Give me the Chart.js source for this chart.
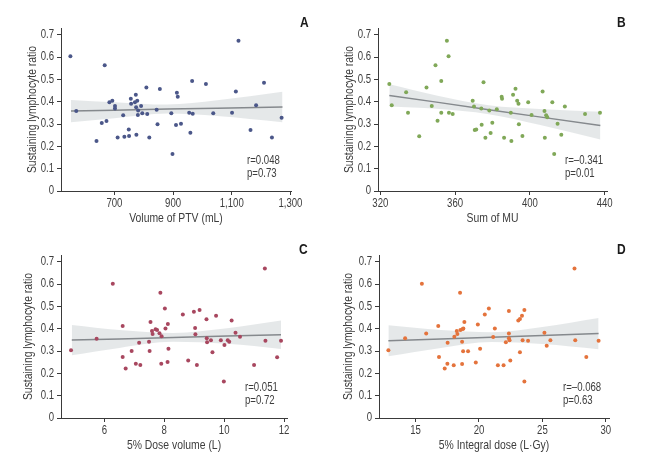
<!DOCTYPE html>
<html>
<head>
<meta charset="utf-8">
<script src="https://cdn.jsdelivr.net/npm/chart.js@4.4.1/dist/chart.umd.min.js"></script>
<style>
  html, body { margin: 0; padding: 0; background: #fff; }
  #wrap { position: relative; width: 656px; height: 466px; }
  .panel { position: absolute; width: 328px; height: 233px; }
</style>
</head>
<body>
<div id="wrap">
  <div class="panel" style="left:0;top:0"><canvas id="chartA" width="328" height="233"></canvas></div>
  <div class="panel" style="left:328px;top:0"><canvas id="chartB" width="328" height="233"></canvas></div>
  <div class="panel" style="left:0;top:233px"><canvas id="chartC" width="328" height="233"></canvas></div>
  <div class="panel" style="left:328px;top:233px"><canvas id="chartD" width="328" height="233"></canvas></div>
</div>
<script>
// values
const ratioA = [0.603, 0.358, 0.224, 0.304, 0.563, 0.313, 0.397, 0.404, 0.381, 0.370, 0.240, 0.339, 0.243, 0.275, 0.246, 0.413, 0.391, 0.398, 0.431, 0.375, 0.252, 0.404, 0.360, 0.340, 0.381, 0.348, 0.464, 0.345, 0.240, 0.364, 0.299, 0.457, 0.348, 0.166, 0.296, 0.440, 0.422, 0.301, 0.351, 0.261, 0.493, 0.346, 0.479, 0.348, 0.351, 0.446, 0.673, 0.273, 0.384, 0.485, 0.240, 0.328];
const ptvVolume = [550, 570, 639, 657, 667, 673, 683, 693, 702, 702, 711, 730, 734, 749, 750, 756, 757, 770, 773, 774, 775, 778, 781, 780, 791, 795, 809, 812, 819, 844, 847, 855, 894, 898, 910, 913, 916, 927, 955, 959, 965, 967, 1012, 1037, 1101, 1114, 1123, 1164, 1183, 1210, 1237, 1270];

const ratioB = [0.479, 0.384, 0.442, 0.351, 0.245, 0.464, 0.381, 0.563, 0.315, 0.493, 0.351, 0.673, 0.603, 0.351, 0.345, 0.404, 0.378, 0.273, 0.275, 0.369, 0.297, 0.487, 0.239, 0.360, 0.260, 0.306, 0.366, 0.422, 0.413, 0.239, 0.351, 0.224, 0.431, 0.458, 0.404, 0.391, 0.299, 0.246, 0.397, 0.340, 0.446, 0.358, 0.239, 0.339, 0.330, 0.397, 0.166, 0.301, 0.252, 0.378, 0.345, 0.351];
const sumMU = [324.8, 326.1, 333.8, 334.8, 340.8, 344.7, 347.5, 349.5, 350.6, 352.6, 352.6, 355.6, 356.5, 356.7, 358.7, 369.4, 370.1, 370.5, 371.3, 374.0, 374.2, 375.2, 376.2, 378.3, 379.0, 379.9, 382.3, 384.9, 385.1, 386.2, 389.8, 390.1, 391.0, 392.3, 393.2, 393.9, 394.1, 396.0, 399.1, 400.9, 406.8, 407.8, 408.0, 408.7, 409.3, 412.0, 413.0, 414.8, 416.8, 418.7, 429.5, 437.5];

const ratioC = [0.303, 0.355, 0.601, 0.412, 0.273, 0.222, 0.300, 0.243, 0.337, 0.237, 0.342, 0.300, 0.430, 0.390, 0.376, 0.397, 0.394, 0.379, 0.561, 0.243, 0.366, 0.490, 0.401, 0.251, 0.421, 0.310, 0.463, 0.257, 0.476, 0.403, 0.375, 0.237, 0.484, 0.442, 0.357, 0.339, 0.348, 0.294, 0.458, 0.348, 0.327, 0.164, 0.348, 0.342, 0.437, 0.382, 0.364, 0.237, 0.670, 0.346, 0.272, 0.346];
const doseVolume = [4.885, 5.74, 6.28, 6.61, 6.61, 6.71, 6.91, 7.05, 7.16, 7.20, 7.49, 7.51, 7.54, 7.59, 7.61, 7.71, 7.76, 7.84, 7.87, 7.90, 7.91, 8.02, 8.04, 8.11, 8.12, 8.14, 8.62, 8.80, 8.99, 9.03, 9.04, 9.09, 9.18, 9.41, 9.42, 9.43, 9.56, 9.61, 9.73, 9.89, 10.01, 9.99, 10.12, 10.17, 10.25, 10.38, 10.53, 11.0, 11.36, 11.38, 11.77, 11.90];

const ratioD = [0.303, 0.357, 0.601, 0.378, 0.412, 0.273, 0.222, 0.337, 0.243, 0.236, 0.364, 0.390, 0.376, 0.561, 0.394, 0.242, 0.342, 0.399, 0.401, 0.299, 0.430, 0.299, 0.249, 0.419, 0.310, 0.463, 0.490, 0.363, 0.401, 0.236, 0.236, 0.339, 0.479, 0.378, 0.357, 0.348, 0.258, 0.437, 0.443, 0.294, 0.458, 0.348, 0.484, 0.163, 0.346, 0.382, 0.324, 0.348, 0.670, 0.348, 0.273, 0.346];
const integralDose = [12.86, 14.18, 15.50, 15.84, 16.79, 16.85, 17.30, 17.53, 17.51, 18.01, 18.06, 18.25, 18.30, 18.51, 18.54, 18.67, 18.67, 18.72, 18.77, 18.75, 18.85, 19.14, 19.75, 19.91, 20.09, 20.46, 20.78, 21.12, 21.25, 21.49, 21.94, 22.12, 22.36, 22.36, 22.36, 22.41, 22.47, 23.10, 23.23, 23.23, 23.39, 23.44, 23.58, 23.58, 23.87, 25.16, 25.34, 25.63, 27.53, 27.59, 28.46, 29.43];

// fitted line and 95% band, read at a few x positions
const fitXA = [552, 700, 880, 1050, 1273];
const fitA = [0.358, 0.362, 0.367, 0.371, 0.376];
const hiA = [0.408, 0.398, 0.387, 0.406, 0.444];
const loA = [0.308, 0.326, 0.347, 0.336, 0.308];

const fitXB = [324.8, 350, 378, 405, 437.7];
const fitB = [0.428, 0.398, 0.364, 0.332, 0.293];
const hiB = [0.478, 0.428, 0.384, 0.367, 0.355];
const loB = [0.378, 0.368, 0.344, 0.297, 0.231];

const fitXC = [4.91, 6.5, 8.3, 10.1, 11.9];
const fitC = [0.349, 0.354, 0.361, 0.367, 0.373];
const hiC = [0.417, 0.394, 0.381, 0.402, 0.437];
const loC = [0.281, 0.314, 0.341, 0.332, 0.309];

const fitXD = [12.86, 17, 21, 25, 29.43];
const fitD = [0.346, 0.354, 0.362, 0.369, 0.378];
const hiD = [0.415, 0.394, 0.384, 0.407, 0.448];
const loD = [0.277, 0.314, 0.340, 0.331, 0.308];

// tick labels
const yTicks = [0, 0.1, 0.2, 0.3, 0.4, 0.5, 0.6, 0.7];
const xTicksA = [700, 900, 1100, 1300];
const xTicksB = [320, 360, 400, 440];
const xTicksC = [6, 8, 10, 12];
const xTicksD = [15, 20, 25, 30];

const FONT = "'Liberation Sans', Arial, sans-serif";
const AXIS = '#3a3a3a';
const TEXT = '#3d3d3d';

// no condensed face installed: squeeze canvas text sideways so it reads like the narrow font
const SQUEEZE = 0.8;
const proto = CanvasRenderingContext2D.prototype;
const fillTextOrig = proto.fillText;
const measureTextOrig = proto.measureText;
proto.fillText = function (text, x, y, maxWidth) {
  this.save();
  this.translate(x, y);
  this.scale(SQUEEZE, 1);
  if (maxWidth === undefined) fillTextOrig.call(this, text, 0, 0);
  else fillTextOrig.call(this, text, 0, 0, maxWidth / SQUEEZE);
  this.restore();
};
proto.measureText = function (text) {
  const m = measureTextOrig.call(this, text);
  return {
    width: m.width * SQUEEZE,
    actualBoundingBoxAscent: m.actualBoundingBoxAscent,
    actualBoundingBoxDescent: m.actualBoundingBoxDescent,
    actualBoundingBoxLeft: m.actualBoundingBoxLeft * SQUEEZE,
    actualBoundingBoxRight: m.actualBoundingBoxRight * SQUEEZE,
  };
};

/** letter and r/p text of every panel */
const panelText = {
  id: 'panelText',
  afterDraw(chart, args, opts) {
    const { ctx } = chart;
    ctx.save();
    ctx.fillStyle = '#1a1a1a';
    ctx.textBaseline = 'middle';
    ctx.textAlign = 'left';
    ctx.font = `bold 15px ${FONT}`;
    ctx.fillText(opts.letter, opts.letterPos[0], opts.letterPos[1]);
    ctx.fillStyle = TEXT;
    ctx.font = `12px ${FONT}`;
    opts.stats.forEach((line, i) => {
      ctx.fillText(line, opts.statsPos[0], opts.statsPos[1] + i * 13);
    });
    ctx.restore();
  },
};

const pts = (xs, ys) => xs.map((x, i) => ({ x, y: ys[i] }));

const drawPanel = (id, p) => {
  const bandLine = {
    showLine: true,
    pointRadius: 0,
    borderWidth: 0,
    tension: 0.4,
    cubicInterpolationMode: 'monotone',
  };
  return new Chart(document.getElementById(id), {
    type: 'scatter',
    data: {
      datasets: [
        {
          data: pts(p.xs, p.ys),
          backgroundColor: p.color,
          borderWidth: 0,
          pointRadius: 2,
          order: 0,
        },
        {
          data: pts(p.fitX, p.fit),
          showLine: true,
          pointRadius: 0,
          borderColor: '#85898d',
          borderWidth: 1.5,
          order: 1,
        },
        {
          ...bandLine,
          data: pts(p.fitX, p.hi),
          fill: '+1',
          backgroundColor: 'rgba(226,229,231,0.9)',
          order: 2,
        },
        {
          ...bandLine,
          data: pts(p.fitX, p.lo),
          fill: false,
          order: 3,
        },
      ],
    },
    options: {
      responsive: false,
      animation: false,
      devicePixelRatio: 1,
      layout: { padding: p.pad },
      plugins: {
        legend: { display: false },
        tooltip: { enabled: false },
        panelText: { letter: p.letter, letterPos: p.letterPos, stats: p.stats, statsPos: p.statsPos },
      },
      scales: {
        x: {
          type: 'linear',
          min: p.xMin,
          max: p.xMax,
          afterBuildTicks: (s) => { s.ticks = p.xTicks.map((v) => ({ value: v })); },
          afterFit: (s) => { s.height = p.xAxisH; },
          ticks: {
            autoSkip: false,
            maxRotation: 0,
            padding: 1,
            color: TEXT,
            font: { family: FONT, size: 12 },
            callback: (v) => v.toLocaleString('en-US'),
          },
          grid: { drawOnChartArea: false, tickLength: 4, tickColor: AXIS },
          border: { color: AXIS, width: 1 },
          title: {
            display: true,
            text: p.xTitle,
            color: TEXT,
            padding: 0,
            font: { family: FONT, size: 13 },
          },
        },
        y: {
          min: 0,
          max: 0.73,
          afterBuildTicks: (s) => { s.ticks = yTicks.map((v) => ({ value: v })); },
          afterFit: (s) => { s.width = p.yAxisW; },
          ticks: {
            padding: 3,
            color: TEXT,
            font: { family: FONT, size: 12 },
            callback: (v) => (v === 0 ? '0' : v.toFixed(1)),
          },
          grid: { drawOnChartArea: false, tickLength: 4, tickColor: AXIS },
          border: { color: AXIS, width: 1 },
          title: {
            display: true,
            text: 'Sustaining lymphocyte ratio',
            color: TEXT,
            padding: 0,
            font: { family: FONT, size: 13 },
          },
        },
      },
    },
    plugins: [panelText],
  });
};

drawPanel('chartA', {
  xs: ptvVolume, ys: ratioA, fitX: fitXA, fit: fitA, hi: hiA, lo: loA,
  color: '#4b5789', xMin: 518, xMax: 1302, xTicks: xTicksA, xTitle: 'Volume of PTV (mL)',
  pad: { left: 25, right: 37, top: 28, bottom: 7 }, yAxisW: 36, xAxisH: 35,
  letter: 'A', letterPos: [300, 23], stats: ['r=0.048', 'p=0.73'], statsPos: [247, 161],
});
drawPanel('chartB', {
  xs: sumMU, ys: ratioB, fitX: fitXB, fit: fitB, hi: hiB, lo: loB,
  color: '#80a858', xMin: 318.75, xMax: 441.25, xTicks: xTicksB, xTitle: 'Sum of MU',
  pad: { left: 14, right: 49, top: 28, bottom: 7 }, yAxisW: 36, xAxisH: 35,
  letter: 'B', letterPos: [289, 23], stats: ['r=\u20130.341', 'p=0.01'], statsPos: [237, 161],
});
drawPanel('chartC', {
  xs: doseVolume, ys: ratioC, fitX: fitXC, fit: fitC, hi: hiC, lo: loC,
  color: '#a8475f', xMin: 4.55, xMax: 12.1, xTicks: xTicksC, xTitle: '5% Dose volume (L)',
  pad: { left: 21, right: 41, top: 22, bottom: 13 }, yAxisW: 40, xAxisH: 35,
  letter: 'C', letterPos: [299, 17], stats: ['r=0.051', 'p=0.72'], statsPos: [245, 155],
});
drawPanel('chartD', {
  xs: integralDose, ys: ratioD, fitX: fitXD, fit: fitD, hi: hiD, lo: loD,
  color: '#e4733c', xMin: 12.12, xMax: 30.25, xTicks: xTicksD, xTitle: '5% Integral dose (L\u00b7Gy)',
  pad: { left: 13, right: 47, top: 22, bottom: 13 }, yAxisW: 38, xAxisH: 35,
  letter: 'D', letterPos: [289, 17], stats: ['r=\u20130.068', 'p=0.63'], statsPos: [235, 155],
});
</script>
</body>
</html>
